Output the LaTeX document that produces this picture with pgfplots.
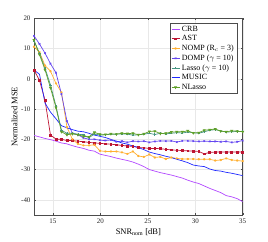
\documentclass[border=0pt]{standalone}
\usepackage{pgfplots}
\usepackage{pgfplotstable}
\usepackage{fontspec}
\setmainfont{Liberation Serif}
\pgfplotsset{compat=1.18}
\definecolor{ccrb}{RGB}{178,72,255}
\definecolor{cast}{RGB}{190,20,50}
\definecolor{cnomp}{RGB}{255,176,50}
\definecolor{cdomp}{RGB}{100,70,240}
\definecolor{classo}{RGB}{70,150,130}
\definecolor{cmusic}{RGB}{30,40,255}
\definecolor{cnlasso}{RGB}{95,160,40}
\pgfplotstableread{
x crb ast nomp domp lasso music nlasso
13.000 -18.7 2.9 10.6 14.2 12.5 2.9 12.8
13.579 -19.2 -0.5 8.8 11.5 8.5 1.5 8.0
14.158 -19.7 -7.0 4.4 8.5 3.5 -8.0 3.0
14.737 -20.1 -18.6 2.5 5.0 -2.0 -11.0 -3.0
15.316 -20.6 -19.9 -1.5 2.0 -9.0 -13.2 -9.5
15.895 -21.2 -20.0 -4.5 -5.0 -17.0 -15.5 -17.5
16.474 -21.5 -20.4 -16.0 -14.0 -18.0 -16.2 -18.5
17.053 -22.1 -20.4 -20.0 -18.0 -18.0 -16.8 -18.2
17.632 -22.6 -20.6 -21.5 -18.5 -18.3 -17.3 -18.5
18.211 -23.0 -20.8 -22.0 -19.5 -18.5 -17.5 -19.0
18.789 -23.6 -21.0 -22.0 -20.0 -19.5 -18.0 -19.2
19.368 -23.9 -21.2 -21.8 -20.0 -18.2 -18.6 -17.7
19.947 -24.9 -21.3 -23.8 -20.3 -18.6 -19.0 -18.3
20.526 -25.3 -21.5 -24.0 -20.4 -18.5 -19.4 -18.4
21.105 -25.7 -21.6 -24.0 -20.2 -18.3 -20.0 -18.2
21.684 -26.2 -21.8 -24.0 -20.8 -18.3 -20.6 -18.3
22.263 -26.6 -22.0 -24.3 -20.6 -18.2 -21.2 -18.0
22.842 -27.0 -22.2 -24.8 -21.0 -18.3 -21.6 -18.1
23.421 -27.5 -22.3 -24.0 -20.6 -18.6 -22.2 -18.0
24.000 -28.2 -22.7 -25.5 -20.7 -18.5 -22.7 -18.5
24.579 -29.0 -22.8 -25.8 -20.6 -18.3 -23.4 -18.2
25.158 -30.0 -23.0 -25.0 -21.0 -18.0 -24.2 -17.4
25.737 -30.5 -23.0 -26.0 -20.7 -18.4 -24.7 -17.3
26.316 -31.0 -23.1 -25.8 -20.5 -18.0 -25.1 -18.1
26.895 -31.4 -23.3 -26.5 -20.6 -18.2 -25.6 -18.0
27.474 -31.8 -23.5 -26.0 -20.5 -18.0 -26.0 -17.6
28.053 -32.3 -23.6 -26.3 -20.9 -17.8 -26.6 -17.5
28.632 -32.8 -23.7 -26.5 -20.5 -17.9 -27.1 -17.5
29.211 -33.5 -23.8 -26.5 -20.5 -17.6 -27.7 -17.2
29.789 -34.1 -23.9 -26.5 -20.6 -17.8 -28.5 -17.9
30.368 -34.6 -24.0 -26.6 -20.7 -18.0 -28.8 -17.8
30.947 -35.4 -24.8 -26.6 -20.6 -17.5 -29.0 -17.0
31.526 -36.2 -24.3 -26.6 -20.7 -17.0 -29.8 -16.8
32.105 -36.9 -24.2 -27.0 -20.7 -16.8 -30.3 -16.6
32.684 -37.6 -24.2 -26.8 -20.8 -17.2 -30.5 -17.3
33.263 -38.6 -24.2 -26.3 -20.7 -17.6 -30.9 -17.5
33.842 -39.0 -24.2 -26.8 -21.0 -17.5 -31.2 -17.2
34.421 -39.6 -24.2 -27.0 -20.8 -17.4 -31.6 -17.3
35.000 -40.6 -24.2 -27.2 -20.4 -17.4 -32.0 -17.5
}\datatab
\begin{document}
\begin{tikzpicture}
\begin{axis}[
  scale only axis,
  width=208.7bp, height=196.7bp,
  xmin=13, xmax=35, ymin=-45, ymax=20,
  xtick={15,20,25,30,35},
  ytick={-40,-30,-20,-10,0,10,20},
  tick align=inside,
  major tick length=2bp,
  grid=major,
  grid style={gray!18, line width=0.4pt},
  axis line style={gray!60!black, line width=0.5pt},
  tick style={gray!60!black},
  /pgf/number format/assume math mode=true,
  tick label style={font=\fontsize{7}{8}\selectfont, text=black!85},
  xlabel={SNR$_{\mathrm{nom}}$ [dB]},
  ylabel={Normalized MSE},
  label style={font=\fontsize{8.5}{9}\selectfont},
  xlabel style={yshift=1bp},
  ylabel style={yshift=-3bp},
  legend style={at={(rel axis cs:0.973,0.978)}, anchor=north east,
    font=\fontsize{8}{8.5}\selectfont, draw=gray!60!black, line width=0.5pt,
    inner sep=1pt, row sep=-1.2pt, cells={anchor=west}},
  legend image code/.code={\draw[mark repeat=2,mark phase=2] plot coordinates {(0cm,0cm)(0.14cm,0cm)(0.28cm,0cm)};},
  every axis plot/.append style={line width=0.7pt, mark size=1.1pt},
]
\addplot[color=ccrb, no marks] table[x=x,y=crb]{\datatab};
\addlegendentry{CRB}
\addplot[color=cast, mark=square*, mark size=0.9pt] table[x=x,y=ast]{\datatab};
\addlegendentry{AST}
\addplot[color=cnomp, mark=asterisk] table[x=x,y=nomp]{\datatab};
\addlegendentry{NOMP (R$_c$ = 3)}
\addplot[color=cdomp, mark=x] table[x=x,y=domp]{\datatab};
\addlegendentry{DOMP ($\gamma$ = 10)}
\addplot[color=classo, mark=+] table[x=x,y=lasso]{\datatab};
\addlegendentry{Lasso ($\gamma$ = 10)}
\addplot[color=cmusic, no marks] table[x=x,y=music]{\datatab};
\addlegendentry{MUSIC}
\addplot[color=cnlasso, mark=triangle*, mark options={rotate=180}] table[x=x,y=nlasso]{\datatab};
\addlegendentry{NLasso}
\end{axis}
\pgfresetboundingbox
\path (current axis.south west) ++(-34bp,-27bp) coordinate (bl);
\path (current axis.north east) ++(25.3bp,18.3bp) coordinate (tr);
\useasboundingbox (bl) rectangle (tr);
\end{tikzpicture}
\end{document}
